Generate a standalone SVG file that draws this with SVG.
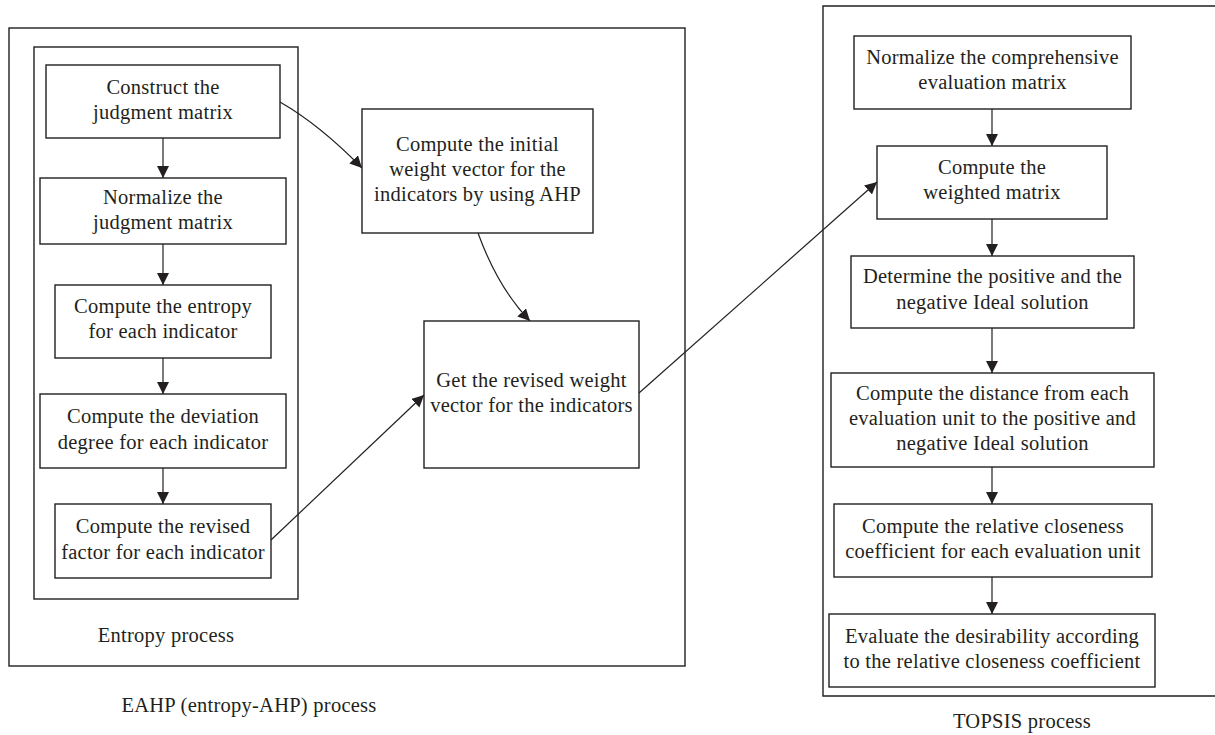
<svg xmlns="http://www.w3.org/2000/svg" width="1215" height="735" viewBox="0 0 1215 735">
<style>
.box{fill:#fff;stroke:#231f20;stroke-width:1.4}
.frame{fill:none;stroke:#231f20;stroke-width:1.4}
.t{font-family:"Liberation Serif","Times New Roman",serif;font-size:20.5px;letter-spacing:0.25px;fill:#231f20;text-anchor:middle}
.c{fill:none;stroke:#231f20;stroke-width:1.2}
</style>
<defs>
<marker id="ah" viewBox="0 0 12 12" refX="12" refY="6" markerWidth="12" markerHeight="12" markerUnits="userSpaceOnUse" orient="auto">
<path d="M0,0 L12,6 L0,12 Z" fill="#231f20"/>
</marker>
</defs>
<rect fill="#fff" x="0" y="0" width="1215" height="735"/>
<g id="eahp-frame">
<rect class="frame" x="9" y="28" width="676" height="638"/>
<text class="t" x="249" y="712">EAHP (entropy-AHP) process</text>
</g>
<g id="entropy-frame">
<rect class="frame" x="34" y="47" width="264" height="552"/>
<text class="t" x="166" y="642">Entropy process</text>
</g>
<g id="topsis-frame">
<path class="frame" d="M1215,6 H823 V696 H1215"/>
<text class="t" x="1022" y="728">TOPSIS process</text>
</g>
<g id="connectors">
<line class="c" x1="163" y1="138" x2="163" y2="178" marker-end="url(#ah)"/>
<line class="c" x1="163" y1="244" x2="163" y2="285" marker-end="url(#ah)"/>
<line class="c" x1="163" y1="358" x2="163" y2="394" marker-end="url(#ah)"/>
<line class="c" x1="163" y1="468" x2="163" y2="504" marker-end="url(#ah)"/>
<path class="c" d="M280,102 Q320,125 362,168" marker-end="url(#ah)"/>
<path class="c" d="M478,233 Q498,288 530,321" marker-end="url(#ah)"/>
<line class="c" x1="271" y1="540" x2="424" y2="395" marker-end="url(#ah)"/>
<line class="c" x1="639" y1="393" x2="877" y2="182" marker-end="url(#ah)"/>
<line class="c" x1="992" y1="109" x2="992" y2="146" marker-end="url(#ah)"/>
<line class="c" x1="992" y1="219" x2="992" y2="256" marker-end="url(#ah)"/>
<line class="c" x1="992" y1="328" x2="992" y2="373" marker-end="url(#ah)"/>
<line class="c" x1="992" y1="467" x2="992" y2="504" marker-end="url(#ah)"/>
<line class="c" x1="992" y1="577" x2="992" y2="614" marker-end="url(#ah)"/>
</g>
<g id="n-construct">
<rect class="box" x="46" y="65" width="234" height="73"/>
<text class="t" x="163" y="94">Construct the</text>
<text class="t" x="163" y="119">judgment matrix</text>
</g>
<g id="n-normalize">
<rect class="box" x="40" y="178" width="246" height="66"/>
<text class="t" x="163" y="204">Normalize the</text>
<text class="t" x="163" y="229">judgment matrix</text>
</g>
<g id="n-entropy">
<rect class="box" x="55" y="285" width="216" height="73"/>
<text class="t" x="163" y="313">Compute the entropy</text>
<text class="t" x="163" y="338">for each indicator</text>
</g>
<g id="n-deviation">
<rect class="box" x="40" y="394" width="246" height="74"/>
<text class="t" x="163" y="423">Compute the deviation</text>
<text class="t" x="163" y="449">degree for each indicator</text>
</g>
<g id="n-revised-factor">
<rect class="box" x="55" y="504" width="216" height="74"/>
<text class="t" x="163" y="533">Compute the revised</text>
<text class="t" x="163" y="559">factor for each indicator</text>
</g>
<g id="n-ahp">
<rect class="box" x="362" y="109" width="231" height="124"/>
<text class="t" x="477.5" y="151">Compute the initial</text>
<text class="t" x="477.5" y="176">weight vector for the</text>
<text class="t" x="477.5" y="201">indicators by using AHP</text>
</g>
<g id="n-revised-weight">
<rect class="box" x="424" y="321" width="215" height="147"/>
<text class="t" x="531.5" y="387">Get the revised weight</text>
<text class="t" x="531.5" y="412">vector for the indicators</text>
</g>
<g id="n-t1">
<rect class="box" x="854" y="36" width="277" height="73"/>
<text class="t" x="992.5" y="64">Normalize the comprehensive</text>
<text class="t" x="992.5" y="89">evaluation matrix</text>
</g>
<g id="n-t2">
<rect class="box" x="877" y="146" width="230" height="73"/>
<text class="t" x="992" y="174">Compute the</text>
<text class="t" x="992" y="199">weighted matrix</text>
</g>
<g id="n-t3">
<rect class="box" x="851" y="256" width="283" height="72"/>
<text class="t" x="992.5" y="283">Determine the positive and the</text>
<text class="t" x="992.5" y="309">negative Ideal solution</text>
</g>
<g id="n-t4">
<rect class="box" x="831" y="373" width="323" height="94"/>
<text class="t" x="992.5" y="400">Compute the distance from each</text>
<text class="t" x="992.5" y="425">evaluation unit to the positive and</text>
<text class="t" x="992.5" y="450">negative Ideal solution</text>
</g>
<g id="n-t5">
<rect class="box" x="834" y="504" width="318" height="73"/>
<text class="t" x="993" y="533">Compute the relative closeness</text>
<text class="t" x="993" y="558">coefficient for each evaluation unit</text>
</g>
<g id="n-t6">
<rect class="box" x="829" y="614" width="326" height="73"/>
<text class="t" x="992" y="643">Evaluate the desirability according</text>
<text class="t" x="992" y="668">to the relative closeness coefficient</text>
</g>
</svg>
